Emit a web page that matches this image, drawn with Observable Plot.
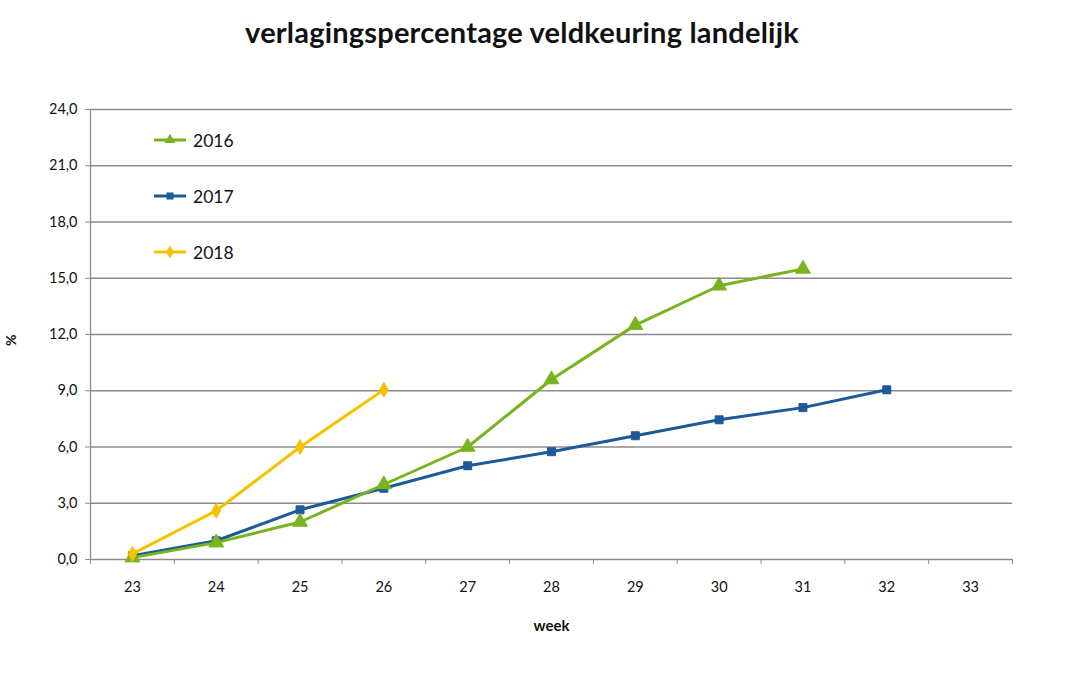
<!DOCTYPE html>
<html>
<head>
<meta charset="utf-8">
<script src="https://cdn.jsdelivr.net/npm/d3@7"></script>
<script src="https://cdn.jsdelivr.net/npm/@observablehq/plot@0.6"></script>
<style>
  html, body { margin: 0; padding: 0; background: #fff; }
  #wrap { position: relative; width: 1070px; height: 674px; overflow: hidden; font-family: Lato, "Open Sans", sans-serif; }
  #title { height: 60px; width: 1044px; text-align: center; font-weight: bold; font-size: 29px; line-height: 64px; color: #111; letter-spacing: 0.2px; }
  #legend { position: absolute; left: 153px; top: 125px; }
  .li { position: absolute; left: 0; height: 30px; display: flex; align-items: center; font-size: 17.5px; color: #111; }
  .li svg { margin-right: 6px; }
</style>
</head>
<body>
<div id="wrap">
  <div id="title">verlagingspercentage veldkeuring landelijk</div>
  <div id="chart"></div>
  <div id="legend"></div>
</div>
<script>
const weeks = [23, 24, 25, 26, 27, 28, 29, 30, 31, 32, 33];
const weeks2016 = [23, 24, 25, 26, 27, 28, 29, 30, 31];
const values2016 = [0.1, 0.9, 2.0, 4.0, 6.0, 9.6, 12.5, 14.6, 15.5];
const weeks2017 = [23, 24, 25, 26, 27, 28, 29, 30, 31, 32];
const values2017 = [0.2, 1.0, 2.65, 3.8, 5.0, 5.75, 6.6, 7.45, 8.1, 9.05];
const weeks2018 = [23, 24, 25, 26];
const values2018 = [0.3, 2.6, 6.0, 9.05];
const yTicks = [0, 3, 6, 9, 12, 15, 18, 21, 24];
const seriesNames = ["2016", "2017", "2018"];

const colors = {"2016": "#78b41e", "2017": "#1d5a98", "2018": "#f5c200"};
const symbols = {"2016": "triangle", "2017": "square", "2018": "diamond"};

const toRows = (name, ws, vs) => ws.map((w, i) => ({series: name, week: w, value: vs[i]}));
const d2016 = toRows("2016", weeks2016, values2016);
const d2017 = toRows("2017", weeks2017, values2017);
const d2018 = toRows("2018", weeks2018, values2018);

const boundaries = [weeks[0] - 0.5, ...weeks.map(w => w + 0.5)];
const fmt = v => d3.format(".1f")(v).replace(".", ",");
const grid = "#8c8c8c";

function seriesMarks(data, name) {
  return [
    Plot.line(data, {x: "week", y: "value", stroke: colors[name], strokeWidth: 3}),
    Plot.dot(data, {x: "week", y: "value", fill: colors[name], stroke: colors[name], strokeWidth: 1, symbol: symbols[name], r: name === "2016" ? 5.5 : 4.5})
  ];
}

const chart = Plot.plot({
  width: 1070,
  height: 614,
  marginTop: 49,
  marginBottom: 115,
  marginLeft: 90,
  marginRight: 58,
  style: {fontFamily: "Lato, 'Open Sans', sans-serif", fontSize: "14px", color: "#111", overflow: "visible"},
  x: {type: "linear", domain: [weeks[0] - 0.5, weeks[weeks.length - 1] + 0.5]},
  y: {domain: [0, 24]},
  marks: [
    Plot.ruleY(yTicks, {y: d => d, stroke: grid, strokeWidth: 1.3}),
    Plot.ruleX([boundaries[0]], {stroke: grid, strokeWidth: 1.3}),
    Plot.axisY({ticks: yTicks, tickFormat: fmt, tickSize: 5, tickPadding: 8, stroke: grid, fontSize: 14.5, label: null}),
    Plot.axisX({ticks: boundaries, tickFormat: () => "", tickSize: 5, stroke: grid, label: null}),
    Plot.axisX({ticks: weeks, tickFormat: d => String(d), tickSize: 0, tickPadding: 22, fontSize: 14.5, label: null}),
    ...seriesMarks(d2017, "2017"),
    ...seriesMarks(d2016, "2016"),
    ...seriesMarks(d2018, "2018"),
    Plot.text(["week"], {frameAnchor: "bottom", dy: 71, text: d => d, fontWeight: "bold", fontSize: 15}),
    Plot.text(["%"], {frameAnchor: "left", dx: -80, rotate: 90, text: d => d, fontWeight: "bold", fontSize: 14})
  ]
});
document.getElementById("chart").appendChild(chart);

// legend
const legend = d3.select("#legend");
seriesNames.forEach((name, i) => {
  const item = legend.append("div").attr("class", "li").style("top", (i * 56) + "px");
  const svg = item.append("svg").attr("width", 34).attr("height", 16);
  svg.append("line").attr("x1", 1).attr("x2", 33).attr("y1", 8).attr("y2", 8)
    .attr("stroke", colors[name]).attr("stroke-width", 3);
  svg.append("path").attr("transform", "translate(17,8)")
    .attr("d", d3.symbol(name === "2016" ? d3.symbolTriangle : name === "2017" ? d3.symbolSquare : d3.symbolDiamond, 50)())
    .attr("fill", colors[name]);
  item.append("span").text(name);
});
</script>
</body>
</html>
